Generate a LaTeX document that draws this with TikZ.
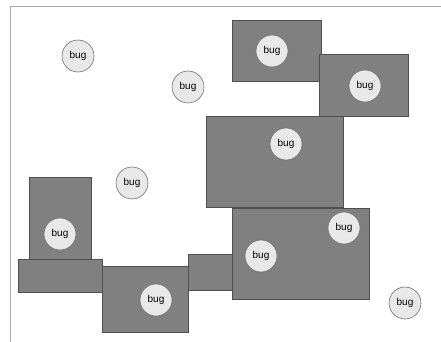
\documentclass[tikz,border=0pt]{standalone}
\usepackage{fontspec}
\setmainfont{Liberation Sans}
\definecolor{boxfill}{HTML}{808080}
\definecolor{boxline}{HTML}{505050}
\definecolor{bugfill}{HTML}{E8E8E8}
\definecolor{bugline}{HTML}{707070}
\definecolor{frameline}{HTML}{AAAAAA}
\tikzset{
  area/.style={draw=boxline, fill=boxfill, line width=0.8pt},
  bug/.style={circle, draw=bugline, fill=bugfill, line width=0.6pt, minimum size=32pt, inner sep=0pt, font=\fontsize{10}{12}\selectfont},
}
\begin{document}
\begin{tikzpicture}[x=1pt,y=-1pt]
\useasboundingbox (0,0) rectangle (441,342);
\draw[frameline, line width=1pt] (10,342) -- (10,7) -- (441,7);
\draw[area] (232,20) rectangle (321,81);
\draw[area] (319,54) rectangle (408,116);
\draw[area] (206,116) rectangle (343,207);
\draw[area] (232,208) rectangle (369,299);
\draw[area] (188,254) rectangle (232,290);
\draw[area] (102,266) rectangle (188,332);
\draw[area] (18,259) rectangle (102,292);
\draw[area] (29,177) rectangle (91,259);
\node[bug] (b1) at (78,56) {bug};
\node[bug] (b2) at (188,87) {bug};
\node[bug] (b3) at (272,51) {bug};
\node[bug] (b4) at (365,86) {bug};
\node[bug] (b5) at (286,144) {bug};
\node[bug] (b6) at (132,183) {bug};
\node[bug] (b7) at (60,234) {bug};
\node[bug] (b8) at (156,300) {bug};
\node[bug] (b9) at (261,256) {bug};
\node[bug] (b10) at (344,228) {bug};
\node[bug] (b11) at (405,303) {bug};
\end{tikzpicture}
\end{document}
